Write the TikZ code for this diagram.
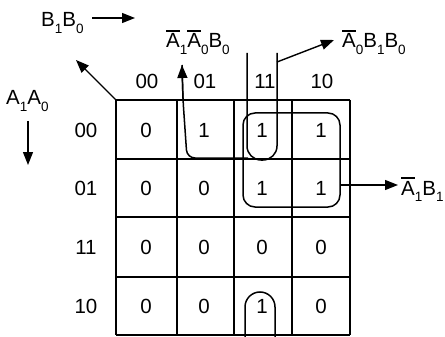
\documentclass[tikz,border=0pt]{standalone}
\usepackage{fontspec}
\setmainfont{Liberation Sans}
\usetikzlibrary{arrows.meta}
% lowered small index, and a bar over a letter
\newcommand\ix[1]{\raisebox{-0.3em}{\fontsize{13.5}{14}\selectfont #1}}
\newcommand\nb[1]{\leavevmode\vbox{\hrule height 1.2pt\kern 2.2pt\hbox{#1}}}
\begin{document}
\begin{tikzpicture}[x=1pt,y=-1pt,
  font=\fontsize{20.5}{24}\selectfont,
  gridline/.style={line width=1.1pt},
  grp/.style={line width=1.5pt},
  arr/.style={line width=1.4pt,-{Triangle[length=13pt,width=10pt]}},
  txt/.style={inner sep=0pt},
  lbl/.style={inner sep=0pt,anchor=base west}]
\useasboundingbox (0,0) rectangle (445,337);
\fill[white] (0,0) rectangle (445,337);

% Karnaugh map grid
\foreach \x in {116,177,234,292,350} \draw[gridline] (\x,100) -- (\x,335);
\foreach \y in {100,159,217,277,335} \draw[gridline] (116,\y) -- (350,\y);

% column headings (B1B0) and row headings (A1A0)
\foreach \v/\x in {00/147,01/205,11/265,10/322}
  \node[txt] (col\v) at (\x,81) {\v};
\foreach \v/\y in {00/130,01/188,11/247,10/306}
  \node[txt] (row\v) at (86,\y) {\v};

% cell entries
\foreach \r/\y/\vals in {00/130/{0,1,1,1},01/188/{0,0,1,1},11/247/{0,0,0,0},10/306/{0,0,1,0}}{
  \foreach \v [count=\c] in \vals {
    \pgfmathsetmacro\xx{ifthenelse(\c==1,146,ifthenelse(\c==2,204,ifthenelse(\c==3,262,321)))}
    \node[txt] (cell\r-\c) at (\xx,\y) {\v};
  }
}

% axis labels
\node[lbl] (bb) at (41,27) {B\ix{1}B\ix{0}};
\coordinate (bbs) at (92,18);
\coordinate (bbe) at (135,18);
\draw[arr] (bbs) -- (bbe);
\node[lbl] (aa) at (6,105) {A\ix{1}A\ix{0}};
\coordinate (aas) at (28,121);
\coordinate (aae) at (28,165);
\draw[arr] (aas) -- (aae);
\coordinate (corner) at (116,100);
\coordinate (diag) at (76,60);
\draw[arr] (corner) -- (diag);

% group A1'B1: rows 00,01 x columns 11,10
\draw[grp,rounded corners=12pt] (243,113) rectangle (340,207);
\coordinate (g1s) at (340,185);
\coordinate (g1e) at (398,185);
\draw[arr] (g1s) -- (g1e);
\node[lbl] (g1) at (401,195) {\nb{A}\ix{1}B\ix{1}};

% group A0'B1B0: column 11, rows 00 and 10 (wrapping)
\draw[grp,rounded corners=14pt] (247,53) -- (247,160) -- (277,160) -- (277,53);
\draw[grp] (245,340) -- (245,307) arc[start angle=180,end angle=360,radius=15] -- (275,340);
\coordinate (g2s) at (277,62);
\coordinate (g2e) at (334,40);
\draw[arr] (g2s) -- (g2e);
\node[lbl] (g2) at (342,48) {\nb{A}\ix{0}B\ix{1}B\ix{0}};

% group A1'A0'B0: row 00, columns 01 and 11
\coordinate (g3j) at (248,158);
\coordinate (g3e) at (182,65);
\draw[grp,rounded corners=8pt] (g3j) -- (187,158) -- (183,100) -- (g3e);
\draw[arr] (183,100) -- (g3e);
\node[lbl] (g3) at (166,48) {\nb{A}\ix{1}\nb{A}\ix{0}B\ix{0}};
\end{tikzpicture}
\end{document}
